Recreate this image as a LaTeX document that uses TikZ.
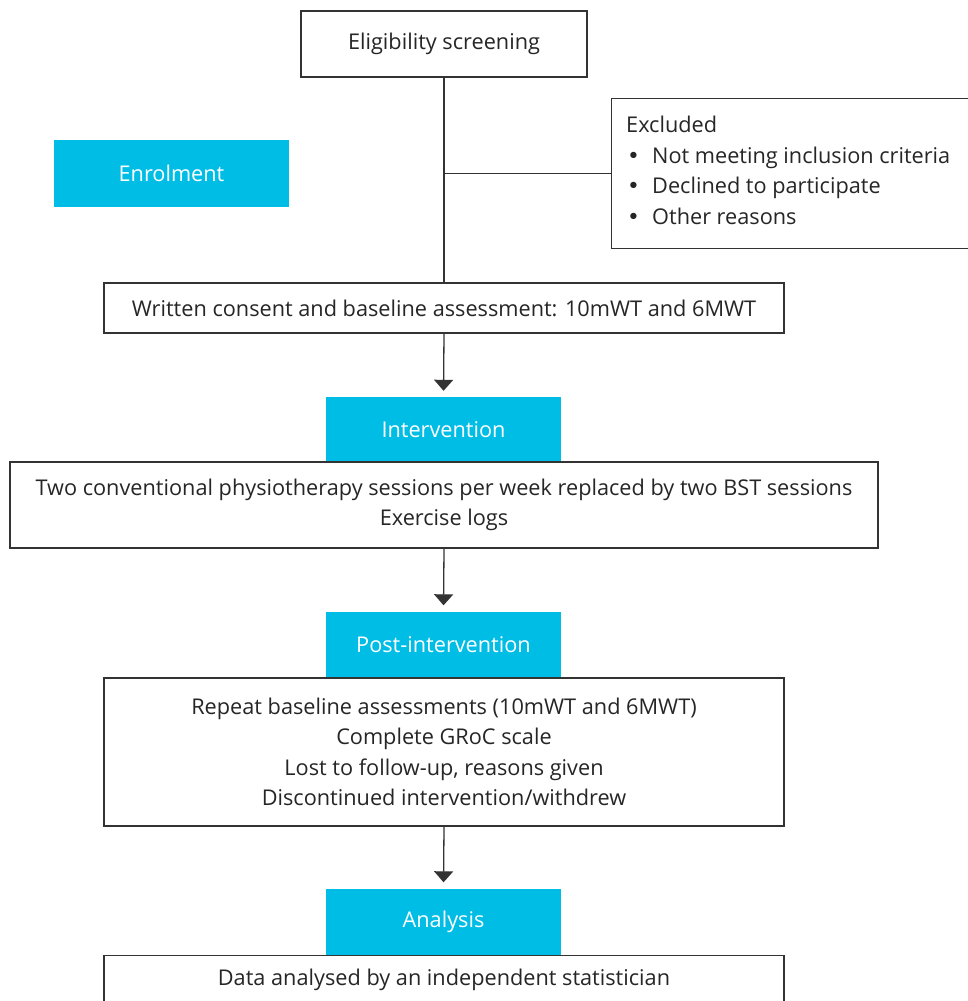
\documentclass[tikz,border=0pt]{standalone}
\usepackage{fontspec}
\setmainfont{Open Sans}
\newfontfamily\bfnt{DejaVu Sans}
\usetikzlibrary{arrows.meta,calc}
\definecolor{cy}{HTML}{00BDE6}
\definecolor{ln}{HTML}{333333}
\newcommand{\blt}{\makebox[26pt][l]{\hspace{1pt}{\bfnt •}}}
\begin{document}
\begin{tikzpicture}[x=1pt,y=-1pt,
  every node/.style={font=\fontsize{21.7}{30.5}\selectfont, text=black!85},
  wbox/.style={draw=ln, line width=1.1pt, fill=white, align=center, inner sep=0pt},
  cbox/.style={fill=cy, text=white, inner sep=0pt, minimum width=235pt},
  arr/.style={draw=ln, line width=1.3pt, -{Triangle[width=19pt,length=11pt]}, shorten >=6pt},
  con/.style={draw=ln, line width=1.1pt}]
\useasboundingbox (0,0) rectangle (968,1001);
\node[wbox, minimum width=286pt, minimum height=66pt] (elig) at (444,44) {Eligibility screening};
\node[wbox, anchor=north west, minimum width=370pt, minimum height=150pt] (excl) at (611,98) {};
\node[anchor=west, align=left, inner sep=0pt] (exclt) at ([xshift=15pt,yshift=3pt]excl.west)
 {Excluded\\
  \blt Not meeting inclusion criteria\\
  \blt Declined to participate\\
  \blt Other reasons};
\node[cbox, minimum height=67pt] (enrol) at (171.5,173.5) {Enrolment};
\node[wbox, minimum width=680pt, minimum height=50pt] (consent) at (444,308) {Written consent and baseline assessment: 10mWT and 6MWT};
\node[cbox, minimum height=65pt] (intc) at (443.5,429.5) {Intervention};
\node[wbox, minimum width=868pt, minimum height=86pt] (intb) at (444,505) {Two conventional physiotherapy sessions per week replaced by two BST sessions\\Exercise logs};
\node[cbox, minimum height=66pt] (postc) at (443.5,644.5) {Post-intervention};
\node[wbox, minimum width=680pt, minimum height=148pt] (postb) at (444,752) {Repeat baseline assessments (10mWT and 6MWT)\\Complete GRoC scale\\Lost to follow-up, reasons given\\Discontinued intervention/withdrew};
\node[cbox, minimum height=66pt] (anac) at (443.5,921.5) {Analysis};
\node[wbox, anchor=north, minimum width=680pt, minimum height=70pt] (anab) at (444,954.5) {};
\node (anat) at (444,980) {Data analysed by an independent statistician};
\draw[con] (elig.south) -- (consent.north);
\coordinate (br) at (elig.south |- excl.west);
\draw[con] (br) -- (excl.west);
\draw[arr] (consent.south) -- (intc.north);
\draw[arr] (intb.south) -- (postc.north);
\draw[arr] (postb.south) -- (anac.north);
\end{tikzpicture}
\end{document}
